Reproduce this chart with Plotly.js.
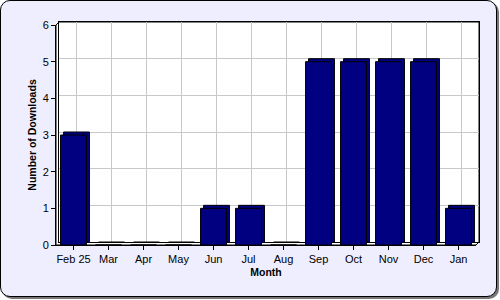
<!DOCTYPE html>
<html>
<head>
<meta charset="utf-8">
<script src="https://cdn.plot.ly/plotly-3.0.1.min.js"></script>
<style>
  html, body { margin: 0; padding: 0; background: #ffffff; }
  #wrap { position: relative; width: 500px; height: 300px; }
  #card { position: absolute; left: 0; top: 0; width: 495px; height: 295px;
          background: #EEEEFF; border: 1px solid #000; border-radius: 10px;
          box-shadow: 2px 2px 0 #777; }
  #chart { position: absolute; left: 0; top: 0; width: 500px; height: 300px; }
</style>
</head>
<body>
<div id="wrap"><div id="card"></div><div id="chart"></div></div>
<script>
// ---- data ----
const months = ["Feb 25", "Mar", "Apr", "May", "Jun", "Jul", "Aug", "Sep", "Oct", "Nov", "Dec", "Jan"];
const downloads = [3, 0, 0, 0, 1, 1, 0, 5, 5, 5, 5, 1];
const yTicks = [0, 1, 2, 3, 4, 5, 6];

// ---- geometry (pixels) ----
const W = 500, H = 300;
const FL = 56, FR = 476, FT = 25, FB = 245;   // front plane
const D = 3;                                  // 3D depth offset
const BL = FL + D, BR = FR + D, BT = FT - D, BB = FB - D; // back wall
const yMax = 6;
const pxPerUnit = (FB - FT) / yMax;
const px = x => x / W, py = y => 1 - y / H;

const idx = months.map((m, i) => i);
const depthBase = -D / pxPerUnit;

const font = { family: "Liberation Sans, Arial, sans-serif", size: 11, color: "#000" };
const titleFont = { family: "Liberation Sans, Arial, sans-serif", size: 10.5, color: "#000" };

const traces = [
  { // extrusion (back faces)
    type: "bar", x: idx, y: downloads.map(v => v - depthBase), base: depthBase,
    xaxis: "x", yaxis: "y", width: 0.74, cliponaxis: false,
    marker: { color: "#000080", line: { color: "#000", width: 1 } },
    hoverinfo: "skip", showlegend: false
  },
  { // front faces
    type: "bar", x: idx, y: downloads,
    xaxis: "x2", yaxis: "y2", width: 0.74,
    marker: { color: "#000080", line: { color: "#000", width: 1 } },
    showlegend: false
  }
];

const boxPath = "M" + px(FL) + "," + py(FB) + " L" + px(FL) + "," + py(FT) +
  " L" + px(BL) + "," + py(BT) + " L" + px(BR) + "," + py(BT) +
  " L" + px(BR) + "," + py(BB) + " L" + px(FR) + "," + py(FB) + " Z";

const layout = {
  width: W, height: H,
  margin: { l: 0, r: 0, t: 0, b: 0 },
  paper_bgcolor: "rgba(0,0,0,0)",
  plot_bgcolor: "rgba(0,0,0,0)",
  font: font,
  bargap: 0,
  xaxis: {
    domain: [px(BL), px(BR)], range: [-0.5, months.length - 0.5],
    anchor: "y", showgrid: true, gridcolor: "#C8C8C8", gridwidth: 1,
    tickvals: idx, showticklabels: false, ticks: "",
    showline: true, mirror: true, linecolor: "#000", linewidth: 1, zeroline: false
  },
  yaxis: {
    domain: [py(BB), py(BT)], range: [0, yMax],
    anchor: "x", showgrid: true, gridcolor: "#C8C8C8", gridwidth: 1,
    tickvals: yTicks, showticklabels: false, ticks: "",
    showline: true, mirror: true, linecolor: "#000", linewidth: 1, zeroline: false
  },
  xaxis2: {
    domain: [px(FL), px(FR)], range: [-0.5, months.length - 0.5],
    anchor: "y2", showgrid: false, zeroline: false,
    tickvals: idx, ticktext: months, ticks: "outside", ticklen: 4, tickcolor: "#000",
    showline: true, linecolor: "#000", linewidth: 1, tickfont: font,
    title: { text: "<b>Month</b>", font: titleFont, standoff: 4 }
  },
  yaxis2: {
    domain: [py(FB), py(FT)], range: [0, yMax],
    anchor: "x2", showgrid: false, zeroline: false,
    tickvals: yTicks, ticks: "outside", ticklen: 4, tickcolor: "#000",
    showline: true, linecolor: "#000", linewidth: 1, tickfont: font,
    title: { text: "<b>Number of Downloads</b>", font: titleFont, standoff: 3 }
  },
  shapes: [
    { type: "path", xref: "paper", yref: "paper", path: boxPath,
      fillcolor: "#FFFFFF", line: { color: "#000", width: 1 }, layer: "below" }
  ]
};

Plotly.newPlot("chart", traces, layout, { displayModeBar: false, staticPlot: true });
</script>
</body>
</html>
